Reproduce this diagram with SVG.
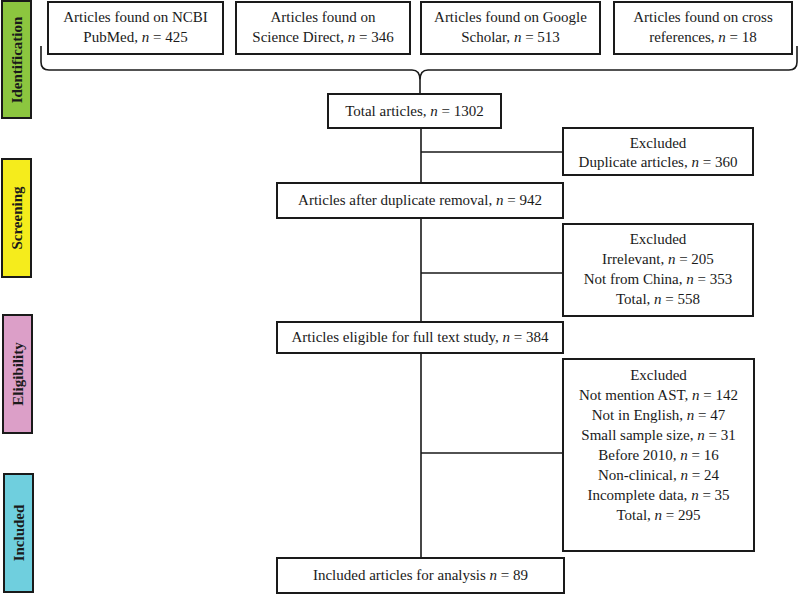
<svg xmlns="http://www.w3.org/2000/svg" width="800" height="594" viewBox="0 0 800 594">
<style>
.box{fill:#fff;stroke:#1a1a1a;stroke-width:2}
.side{stroke:#1a1a1a;stroke-width:2}
.t{font-family:"Liberation Serif","Times New Roman",serif;font-size:15px;fill:#1a1a1a;text-anchor:middle}
.s{font-family:"Liberation Serif","Times New Roman",serif;font-size:15px;font-weight:bold;fill:#1a1a1a;text-anchor:middle}
.i{font-style:italic}
.c{fill:none;stroke:#1a1a1a;stroke-width:1.6}
</style>
<rect width="800" height="594" fill="#fff"/>
<g id="stage-identification"><rect class="side" x="2" y="1" width="29" height="117" fill="#8cc63f"/><text class="s" transform="translate(22,60) rotate(-90)">Identification</text></g>
<g id="stage-screening"><rect class="side" x="2" y="159" width="29" height="118" fill="#f5ec1c"/><text class="s" transform="translate(22,218) rotate(-90)">Screening</text></g>
<g id="stage-eligibility"><rect class="side" x="3" y="315" width="29" height="118" fill="#dc9fc8"/><text class="s" transform="translate(23,374) rotate(-90)">Eligibility</text></g>
<g id="stage-included"><rect class="side" x="4" y="474" width="29" height="118" fill="#6fcfde"/><text class="s" transform="translate(24,533) rotate(-90)">Included</text></g>

<g id="connectors">
<path class="c" d="M41,46 L41,62 Q41,70 49,70 L412,70 Q420,70 420,80 Q420,70 428,70 L789,70 Q797,70 797,62 L797,46"/>
<path class="c" d="M420,80 L420,94"/>
<path class="c" d="M421,128 L421,183 M421,152 L563,152"/>
<path class="c" d="M421,218 L421,322 M421,273 L563,273"/>
<path class="c" d="M421,353 L421,558 M421,453 L563,453"/>
</g>

<g id="src-pubmed"><rect class="box" x="48" y="2" width="175" height="52"/><text class="t" x="135.5" y="22">Articles found on NCBI</text><text class="t" x="135.5" y="42">PubMed, <tspan class="i">n</tspan> = 425</text></g>
<g id="src-sciencedirect"><rect class="box" x="236" y="2" width="174" height="52"/><text class="t" x="323" y="22">Articles found on</text><text class="t" x="323" y="42">Science Direct, <tspan class="i">n</tspan> = 346</text></g>
<g id="src-scholar"><rect class="box" x="421" y="2" width="179" height="52"/><text class="t" x="510.5" y="22">Articles found on Google</text><text class="t" x="510.5" y="42">Scholar, <tspan class="i">n</tspan> = 513</text></g>
<g id="src-crossref"><rect class="box" x="614" y="2" width="178" height="52"/><text class="t" x="703" y="22">Articles found on cross</text><text class="t" x="703" y="42">references, <tspan class="i">n</tspan> = 18</text></g>

<g id="total"><rect class="box" x="328" y="94" width="173" height="34"/><text class="t" x="414.5" y="116">Total articles, <tspan class="i">n</tspan> = 1302</text></g>
<g id="excl-dup"><rect class="box" x="563" y="128" width="190" height="47"/><text class="t" x="658" y="148">Excluded</text><text class="t" x="658" y="167">Duplicate articles, <tspan class="i">n</tspan> = 360</text></g>
<g id="after-dup"><rect class="box" x="277" y="183" width="286" height="35"/><text class="t" x="420" y="205">Articles after duplicate removal, <tspan class="i">n</tspan> = 942</text></g>
<g id="excl-screen"><rect class="box" x="563" y="224" width="190" height="92"/><text class="t" x="658" y="244">Excluded</text><text class="t" x="658" y="264">Irrelevant, <tspan class="i">n</tspan> = 205</text><text class="t" x="658" y="284">Not from China, <tspan class="i">n</tspan> = 353</text><text class="t" x="658" y="304">Total, <tspan class="i">n</tspan> = 558</text></g>
<g id="eligible"><rect class="box" x="277" y="322" width="286" height="31"/><text class="t" x="420" y="342">Articles eligible for full text study, <tspan class="i">n</tspan> = 384</text></g>
<g id="excl-elig"><rect class="box" x="563" y="359" width="191" height="192"/><text class="t" x="658.5" y="380">Excluded</text><text class="t" x="658.5" y="400">Not mention AST, <tspan class="i">n</tspan> = 142</text><text class="t" x="658.5" y="420">Not in English, <tspan class="i">n</tspan> = 47</text><text class="t" x="658.5" y="440">Small sample size, <tspan class="i">n</tspan> = 31</text><text class="t" x="658.5" y="460">Before 2010, <tspan class="i">n</tspan> = 16</text><text class="t" x="658.5" y="480">Non-clinical, <tspan class="i">n</tspan> = 24</text><text class="t" x="658.5" y="500">Incomplete data, <tspan class="i">n</tspan> = 35</text><text class="t" x="658.5" y="520">Total, <tspan class="i">n</tspan> = 295</text></g>
<g id="included"><rect class="box" x="277" y="558" width="287" height="35"/><text class="t" x="420.5" y="580">Included articles for analysis <tspan class="i">n</tspan> = 89</text></g>
</svg>
